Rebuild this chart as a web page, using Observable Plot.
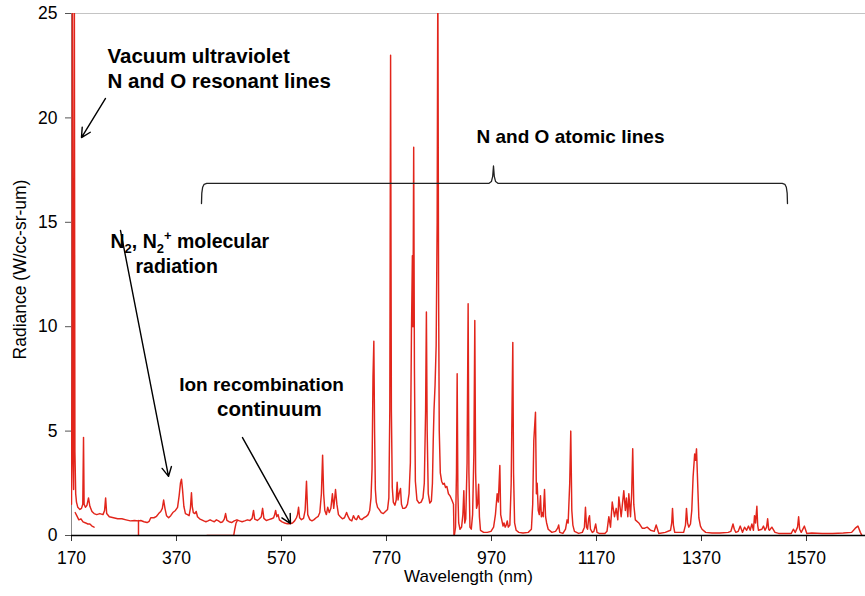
<!DOCTYPE html>
<html><head><meta charset="utf-8">
<script src="https://cdn.jsdelivr.net/npm/d3@7"></script>
<script src="https://cdn.jsdelivr.net/npm/@observablehq/plot@0.6"></script>
<style>
html,body{margin:0;padding:0;background:#fff;}
#chart svg{display:block;}
</style></head><body><div id="chart"></div>
<script>
// ---- tick labels ----
const xTicks = [170, 370, 570, 770, 970, 1170, 1370, 1570];
const yTicks = [0, 5, 10, 15, 20, 25];

// ---- spectrum segments: [wavelength nm, radiance W/cc-sr-um] ----
const uvVisible = [[170,1.5],[171,9],[171.6,27],[172.6,4],[174,2.2],[175.4,27],[176.5,4],[178,2.0],[179.5,1.6],[182,1.35],[186,1.25],[189,1.3],[191.5,1.5],[192.9,4.7],[194,1.5],[196.5,1.35],[199.5,1.45],[202.4,1.8],[205,1.4],[209,1.15],[213,1.05],[218,1.0],[224,1.05],[230,1.0],[233,1.2],[235,1.8],[237,1.05],[242,0.9],[250,0.85],[258,0.8],[266,0.8],[274,0.75],[282,0.7],[290,0.72],[297.6,0.7],
[302,0.72],[308,0.66],[314,0.62],[318,0.68],[321,0.85],[327,0.85],[332,0.92],[336,1.05],[340,1.15],[343,1.3],[345.5,1.7],[348,1.3],[351,0.95],[355,0.85],[359,0.95],[363,1.1],[368,1.2],[372,1.35],[375,1.9],[377.5,2.5],[379.5,2.7],[381.5,2.2],[384,1.4],[387,1.05],[391,1.0],[394,0.95],[396.5,1.3],[398.5,2.05],[400,1.4],[402,1.1],[405,1.05],[407.5,1.15],[410,0.9],[414,0.8],[418,0.75],[422,0.7],[426,0.66],[430,0.7],[434,0.75],[438,0.7],[442,0.66],[446,0.75],[450,0.7],[454,0.62],[458,0.66],[461,0.78],[463.5,1.05],[466,0.72],[470,0.66],[475,0.62],[480,0.7],[485,0.75],[490,0.7],[495,0.66],[500,0.7],[505,0.75],[510,0.72],[514,0.82],[516.7,1.2],[519,0.78],[524,0.72],[528,0.8],[531.5,0.9],[534,1.3],[536.5,0.82],[541,0.72],[546,0.76],[551,0.8],[555,0.85],[557,1.0],[558.8,1.2],[561,0.9],[563.5,1.0],[566,0.75],[571,0.65],[576,0.6],[581,0.56],[586,0.56],[591,0.6],[595,0.7],[598.5,0.85],[600.5,1.0],[602.5,1.35],[604.5,0.85],[608,0.76],[612,0.82],[615,1.2],[617.6,2.6],[620,1.0],[624,0.76],[628,0.7],[632,0.76],[636,0.85],[640,0.92],[643,1.1],[646,2.0],[648.3,3.85],[650.3,2.0],[652.5,1.2],[655.5,1.0],[658,1.35],[661,1.1],[664,1.3],[667,2.0],[669.5,1.3],[672.9,2.2],[675.5,1.5],[678.5,1.0],[682,0.9],[686,0.8],[690,0.85],[694,1.1],[697,0.9],[700,0.76],[704,0.7],[707,0.95],[710,0.8],[713,0.76],[716.5,0.95],[719.5,0.8],[723,0.76],[727,0.85],[731,0.9],[735,1.0],[738,1.2],[740.5,1.8],[742.5,3.2],[744.3,7.6],[745.9,9.3],[747.3,5.0],[748.8,2.2],[750.5,1.6],[753,1.35],[756,1.25],[760,1.1],[764,1.05],[768,1.15],[772,1.25],[774.5,1.8],[776.3,6],[777.8,23],[779.3,6],[781,2.3],[783,1.6],[786,1.45],[788.5,1.7],[790.3,2.55],[792,1.7],[794,2.0],[796.7,2.25],[798.5,1.5],[801,1.3],[804,1.3],[807,1.35],[810,1.5],[813,2.0],[815.5,3.5],[817.5,9.6],[819.3,13.4],[820.4,10],[821.8,18.6],[823.2,8],[825,2.6],[828,1.7],[832,1.55],[836,1.6],[839.5,1.8],[842,2.5],[844.5,6],[846,10.7],[847.5,5],[849.5,2.0],[852.5,1.55],[855.5,1.65],[857.5,2.5],[859,4.5],[860.5,6.0],[862.5,7.2],[864.6,9.1],[866.5,15],[867.8,27],[869.2,12],[870.5,5],[872.5,3.0],[875,2.6],[877.5,2.45],[880,2.5],[882.5,2.3],[885,2.35],[888,2.0],[891,1.9],[894.5,1.7],[897.6,1.5],[898.6,0]];

const vuvLower = [[177,1.1],[180,0.95],[184,0.75],[188,0.8],[192,0.65],[197,0.6],[201,0.55],[205,0.55],[209,0.45],[213,0.4]];

const uvEdge = [[297.6,0.72],[297.6,0]];

const visStart = [[428,0],[479,0],[481,0.3],[483.5,0.6],[486,0.72]];

const nearIR = [[899.5,0.05],[901.5,0.4],[903.3,3],[904.6,7.75],[906,2],[907.5,0.6],[910,0.3],[913,0.4],[915.5,1.0],[917.3,2.15],[919,0.6],[921,0.8],[923.5,3.5],[925.5,11.1],[927,3],[929,0.4],[931.5,0.3],[934,1.0],[936.5,4],[938.2,10.3],[939.8,3],[941.5,1.3],[943.5,1.5],[945.5,2.45],[947,0.9],[949,0.25],[955,0.15],[962,0.15],[969,0.2],[974,0.4],[977.5,1.0],[980.8,2.0],[983,1.6],[985.9,3.35],[987.5,1.0],[990.3,0.65],[992,0.45],[993.8,0.6],[996,0.4],[998,0.5],[1000,0.7],[1002,0.4],[1005,0.5],[1007.5,2.5],[1009.3,6.5],[1010.6,9.25],[1012,3],[1014,0.6],[1017,0.25],[1022,0.15],[1030,0.12],[1040,0.15],[1046,0.3],[1048.5,1.5],[1050.6,4.55],[1053.8,5.9],[1055.5,2],[1057,2.5],[1059,1.2],[1061,1.0],[1063.3,1.9],[1065,0.9],[1067,1.1],[1068.5,0.9],[1071,2.2],[1073,0.9],[1075,0.6],[1078,0.3],[1085,0.15],[1092,0.2],[1096,0.35],[1098,0.5],[1100,0.15],[1106,0.1],[1111,0.3],[1114,0.75],[1116,0.6],[1119,2.5],[1121,5.0],[1123,1.2],[1125,0.5],[1128,0.2],[1136,0.1],[1143,0.15],[1147,0.4],[1149,1.35],[1151,0.4],[1153,0.3],[1155,0.8],[1156.7,0.95],[1158.5,0.3],[1162,0.15],[1165,0.2],[1168.5,0.55],[1171,0.15],[1175,0.1],[1186,0.1],[1190,0.2],[1193.5,0.9],[1196.7,0.4],[1200,1.6],[1204.3,0.9],[1207.5,1.3],[1210.6,0.75],[1212.6,1.85],[1217,0.9],[1222,2.15],[1225,1.2],[1227,1.8],[1229.7,0.9],[1231.6,2.0],[1234.8,0.9],[1237,2],[1239,4.15],[1241,1.5],[1244,0.75],[1250.6,0.6],[1257,0.35],[1262,0.35],[1266.6,0.4],[1273,0.25],[1280,0.2],[1283.7,0.5],[1288.7,0.1],[1301,0.15],[1311,0.25],[1313.3,0.6],[1314.8,1.3],[1316.5,0.5],[1319,0.15],[1336,0.15],[1339.5,0.5],[1341.4,1.3],[1343.5,0.6],[1345.8,0.4],[1349,0.55],[1351.5,1.2],[1354,2.8],[1357,3.9],[1358.6,3.6],[1360.5,4.15],[1363,2.3],[1365,0.85],[1368,0.45],[1371,0.3],[1378,0.15],[1390,0.12],[1405,0.12],[1421,0.15],[1426,0.2],[1430,0.55],[1432.5,0.3],[1435.5,0.15],[1440,0.2],[1443.8,0.45],[1448,0.15],[1452,0.4],[1456,0.25],[1459.5,0.45],[1462.7,0.25],[1466,0.55],[1469,0.25],[1471,0.95],[1473,0.6],[1475.5,1.4],[1477,0.5],[1478.6,0.25],[1485,0.3],[1488,0.45],[1491,0.25],[1494,0.4],[1496,0.8],[1498,0.3],[1499.5,0.25],[1504,0.4],[1510,0.15],[1517,0.1],[1530,0.1],[1541,0.1],[1545,0.3],[1548.5,0.15],[1553,0.4],[1555,0.9],[1557,0.3],[1560,0.15],[1566,0.45],[1570.6,0.1],[1580,0.12],[1600,0.1],[1620,0.1],[1640,0.12],[1656,0.15],[1663,0.35],[1668,0.45],[1672.6,0.15],[1675.6,0]];

const segments = [
  {name: "uvVisible", points: uvVisible},
  {name: "vuvLower", points: vuvLower},
  {name: "uvEdge", points: uvEdge},
  {name: "visStart", points: visStart},
  {name: "nearIR", points: nearIR}
];
const rows = segments.flatMap(s => s.points.map(([w, r]) => ({w, r, seg: s.name})));

// curly brace over the atomic lines (annotation extents)
const braceFrom = 417.6, braceTo = 1533.8, braceMid = 973.8, braceY = 16.86;
const brace = [
  [braceFrom, 15.9],[braceFrom + 0.6, 16.4],[braceFrom + 2.2, 16.68],[braceFrom + 5, 16.82],[braceFrom + 10, braceY],
  [braceMid - 9, braceY],[braceMid - 4, 16.95],[braceMid - 1.5, 17.2],[braceMid, 17.7],[braceMid + 1.5, 17.2],[braceMid + 4, 16.95],[braceMid + 9, braceY],
  [braceTo - 10, braceY],[braceTo - 5, 16.82],[braceTo - 2.2, 16.68],[braceTo - 0.6, 16.4],[braceTo, 15.9]
];

const FONT = "'Liberation Sans', Arial, Helvetica, sans-serif";
const noteStyle = {fontSize: 19.5, fontWeight: "bold", fill: "#000", fontFamily: FONT};

const plot = Plot.plot({
  width: 865,
  height: 596,
  marginLeft: 71,
  marginRight: 0,
  marginTop: 13,
  marginBottom: 61,
  style: {fontFamily: FONT, background: "#fff", color: "#000", overflow: "visible"},
  x: {domain: [170, 1682.4], label: null},
  y: {domain: [0, 25], label: null},
  marks: [
    Plot.ruleY([25], {stroke: "#c4c4c4", strokeWidth: 1.2}),
    Plot.ruleX([170], {stroke: "#8a8a8a", strokeWidth: 1}),
    Plot.axisY({ticks: yTicks, tickSize: 6, tickPadding: 8, fontSize: 17.5, stroke: "#555", label: null, tickFormat: d => String(d)}),
    Plot.axisX({ticks: xTicks, tickSize: 6, tickPadding: 10, fontSize: 17.5, stroke: "#333", label: null, tickFormat: d => String(d)}),
    Plot.line(rows, {x: "w", y: "r", z: "seg", stroke: "#e2251b", strokeWidth: 1.45, strokeLinejoin: "round", clip: true}),
    Plot.ruleY([0], {stroke: "#000", strokeWidth: 1.3}),
    Plot.text(["Wavelength (nm)"], {frameAnchor: "bottom", dy: 46, fontSize: 17, fill: "#000"}),
    Plot.text(["Radiance (W/cc-sr-um)"], {frameAnchor: "left", dx: -51, dy: -5, rotate: -90, textAnchor: "middle", fontSize: 17.5, fill: "#000"}),
    // annotations
    Plot.text(["Vacuum ultraviolet"], {x: 238.6, y: 22.65, textAnchor: "start", lineAnchor: "bottom", ...noteStyle, fontSize: 20.5}),
    Plot.text(["N and O resonant lines"], {x: 238.6, y: 21.41, textAnchor: "start", lineAnchor: "bottom", ...noteStyle, fontSize: 20.5}),
    Plot.text(["N and O atomic lines"], {x: 1120.5, y: 18.82, textAnchor: "middle", lineAnchor: "bottom", ...noteStyle, fontSize: 19}),
    Plot.text(["N2, N2+ molecular"], {x: 244.3, y: 13.75, textAnchor: "start", lineAnchor: "bottom", ...noteStyle}),
    Plot.text(["radiation"], {x: 291.9, y: 12.55, textAnchor: "start", lineAnchor: "bottom", ...noteStyle}),
    Plot.text(["Ion recombination"], {x: 532, y: 6.9, textAnchor: "middle", lineAnchor: "bottom", ...noteStyle, fontSize: 19}),
    Plot.text(["continuum"], {x: 547, y: 5.7, textAnchor: "middle", lineAnchor: "bottom", ...noteStyle, fontSize: 20.5}),
    Plot.arrow([{x1: 234.8, y1: 20.93, x2: 189.0, y2: 19.06}], {x1: "x1", y1: "y1", x2: "x2", y2: "y2", stroke: "#000", strokeWidth: 1.4, headLength: 11, headAngle: 55}),
    Plot.arrow([{x1: 263.3, y1: 14.61, x2: 354.8, y2: 2.83}], {x1: "x1", y1: "y1", x2: "x2", y2: "y2", stroke: "#000", strokeWidth: 1.4, headLength: 11, headAngle: 55}),
    Plot.arrow([{x1: 495.7, y1: 4.69, x2: 587.1, y2: 0.57}], {x1: "x1", y1: "y1", x2: "x2", y2: "y2", stroke: "#000", strokeWidth: 1.4, headLength: 11, headAngle: 55}),
    Plot.line(brace, {x: d => d[0], y: d => d[1], stroke: "#222", strokeWidth: 1.3, strokeLinejoin: "round"})
  ]
});

// subscript / superscript for the N2 label
d3.select(plot).selectAll("text").each(function() {
  if (this.textContent === "N2, N2+ molecular") {
    const t = d3.select(this);
    t.text(null);
    t.append("tspan").text("N");
    t.append("tspan").attr("font-size", 13).attr("dy", 5).text("2");
    t.append("tspan").attr("dy", -5).text(", N");
    t.append("tspan").attr("font-size", 13).attr("dy", 5).text("2");
    t.append("tspan").attr("font-size", 13).attr("dy", -13).text("+");
    t.append("tspan").attr("dy", 8).text(" molecular");
  }
});

document.getElementById("chart").appendChild(plot);
</script>
</body></html>
